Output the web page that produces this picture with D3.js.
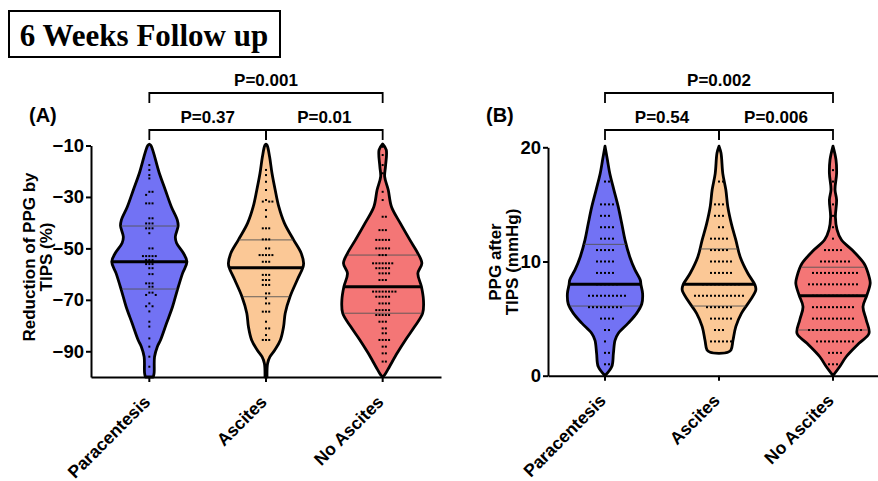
<!DOCTYPE html>
<html lang="en">
<head>
  <meta charset="UTF-8" />
  <title>6 Weeks Follow up</title>
  <script src="https://cdn.jsdelivr.net/npm/d3@7"></script>
  <style>
    body { margin: 0; background: #fff; }
    svg { font-family: "Liberation Sans", Arial, sans-serif; font-weight: bold; }
    .axis path, .axis line { stroke: #000; stroke-width: 2px; }
    .axis text { font-size: 18.5px; font-weight: bold; fill: #000; }
    .axis .cat { font-size: 17.5px; }
  </style>
</head>
<body>
  <div id="chart"></div>
  <script>
    const width = 878;
    const height = 481;

    const categories = ["Paracentesis", "Ascites", "No Ascites"];
    const colors = ["#7272f4", "#fbc896", "#f47676"];

    // violin outlines: [value, relative half width]
    const violinA = [
      [[-9.5,0],[-10,0.04],[-20.8,0.25],[-27.3,0.4],[-33.8,0.55],[-39,0.7],[-41.3,0.72],[-45.5,0.65],[-47.9,0.68],[-51.8,0.85],[-55.2,0.94],[-59.7,0.83],[-66.2,0.7],[-72.7,0.58],[-79.1,0.43],[-85.6,0.28],[-88.2,0.2],[-92.1,0.13],[-98.4,0.12],[-100,0.1]],
      [[-9.5,0],[-10,0.03],[-14.4,0.09],[-20.8,0.15],[-27.3,0.23],[-33.8,0.32],[-40.2,0.46],[-46.7,0.69],[-51.9,0.88],[-55.8,0.94],[-57.5,0.92],[-62.3,0.78],[-68.8,0.6],[-75.2,0.48],[-80.4,0.44],[-85.6,0.36],[-89.5,0.22],[-92.1,0.1],[-94.7,0.04],[-100,0.025]],
      [[-9.4,0],[-11.7,0.09],[-18.2,0.07],[-22.1,0.05],[-27.3,0.14],[-33.8,0.22],[-40.2,0.44],[-46.7,0.68],[-51.9,0.88],[-55.8,0.98],[-59.7,0.88],[-64.9,0.97],[-70.1,1.02],[-75.2,1.0],[-80.4,0.8],[-85.6,0.57],[-90.8,0.36],[-96,0.17],[-99.2,0.05],[-100,0]]
    ];
    const violinB = [
      [[20.1,0],[18.9,0.06],[17.7,0.12],[16.3,0.22],[14.8,0.33],[13.3,0.42],[11.9,0.5],[10.4,0.62],[9.26,0.75],[8.4,0.88],[7.94,0.9],[7.2,0.94],[6.3,0.92],[5.46,0.79],[4.6,0.58],[3.7,0.33],[3.1,0.25],[1.96,0.21],[0.8,0.17],[0,0]],
      [[20.1,0],[19.5,0.05],[17.7,0.095],[16.3,0.17],[14.8,0.22],[13.3,0.31],[11.9,0.42],[10.4,0.53],[8.97,0.72],[7.94,0.9],[7.5,0.92],[6.6,0.78],[5.46,0.56],[4.3,0.42],[3.1,0.35],[2.25,0.3],[2.05,0.22],[1.95,0]],
      [[20.1,0],[18.9,0.075],[17.7,0.09],[16.3,0.05],[15.4,0.09],[13.9,0.06],[12.8,0.1],[11.9,0.21],[11,0.48],[9.8,0.78],[8.7,0.9],[8.1,0.93],[7.07,0.85],[6.04,0.75],[4.9,0.83],[3.7,0.9],[2.84,0.65],[1.66,0.33],[0.8,0.17],[0,0]]
    ];

    // [q1, median, q3]
    const quartilesA = [[-65.8,-55.2,-41.3],[-68.8,-57.5,-46.7],[-75.2,-64.9,-52.6]];
    const quartilesB = [[6.1,8,11.5],[6.1,8,11.1],[4,7,9.5]];

    // dots: [value, count]
    const dotsA = [
      [[-17.6,1],[-19.5,1],[-21.5,1],[-22.8,1],[-28,2],[-29.2,1],[-32.5,3],[-38.3,2],[-40.3,3],[-42.2,3],[-44.1,1],[-50,2],[-53,5],[-54.5,3],[-56.1,3],[-57.7,2],[-60,2],[-63.6,3],[-64.9,2],[-67.2,2],[-68.1,2],[-71.4,1],[-72.5,2],[-74.5,1],[-78.5,1],[-80.4,1],[-85,1],[-88.2,1],[-92.1,1],[-96,1]],
      [[-19.5,1],[-21.5,1],[-24.1,1],[-27.3,1],[-31.2,1],[-31.8,3],[-35.1,1],[-37.7,1],[-42.2,3],[-46.5,3],[-50,2],[-52.6,5],[-55.2,3],[-60.3,3],[-62.3,3],[-64.2,3],[-67.5,2],[-69.4,1],[-71.4,2],[-74.6,3],[-78.5,1],[-81.1,2],[-83.7,1],[-85.6,3]],
      [[-10.5,1],[-13.7,1],[-17.6,1],[-20.8,1],[-28,1],[-31.2,1],[-37.7,2],[-42.9,3],[-46.7,5],[-50,5],[-52.6,3],[-55.8,7],[-57.7,5],[-59.7,4],[-62.3,3],[-66.8,8],[-68.8,5],[-71.4,4],[-74,5],[-75.9,5],[-78.5,3],[-81.1,2],[-83,2],[-85.6,4],[-88.2,2],[-90.8,2],[-94,2]]
    ];
    const dotsB = [
      [[20,1],[17,2],[15,4],[14,3],[13,4],[12,4],[11,5],[10,5],[9,5],[8,6],[7,10],[6,9],[5,4],[4,2],[3,1],[2,2],[1,2]],
      [[20,1],[17,2],[15,3],[14,3],[13,2],[12,5],[11,5],[10,6],[9,6],[8,10],[7,13],[6,7],[5,6],[4,3],[3,6]],
      [[20,1],[18,1],[17,1],[15,1],[14,1],[13,1],[12,1],[11,5],[10,8],[9,12],[8,13],[7,12],[6,11],[5,11],[4,14],[3,10],[2,4],[1,3]]
    ];

    const pValuesA = ["P=0.37", "P=0.01", "P=0.001"];
    const pValuesB = ["P=0.54", "P=0.006", "P=0.002"];

    const svg = d3.select("#chart").append("svg")
      .attr("width", width)
      .attr("height", height);

    // title box
    svg.append("rect")
      .attr("x", 9).attr("y", 11).attr("width", 271).attr("height", 46)
      .attr("fill", "none").attr("stroke", "#000").attr("stroke-width", 2);
    svg.append("text")
      .attr("x", 144).attr("y", 46)
      .attr("text-anchor", "middle")
      .style("font-family", "'Liberation Serif', 'Times New Roman', serif")
      .style("font-size", "31px")
      .text("6 Weeks Follow up");

    function swarm(values, y, cx, d) {
      const placed = [];
      values.slice().sort((a, b) => b - a).forEach(v => {
        const py = y(v);
        let px = cx;
        for (let i = 0; i < 60; i++) {
          const off = i === 0 ? 0 : (i % 2 ? 1 : -1) * Math.ceil(i / 2) * d;
          px = cx + off;
          if (placed.every(p => (p.x - px) ** 2 + (p.y - py) ** 2 >= d * d * 0.95)) break;
        }
        placed.push({ x: px, y: py });
      });
      return placed;
    }

    function halfWidth(profile, v) {
      const p = profile.slice().sort((a, b) => a[0] - b[0]);
      for (let i = 0; i < p.length - 1; i++) {
        if (v >= p[i][0] && v <= p[i + 1][0]) {
          const t = (v - p[i][0]) / (p[i + 1][0] - p[i][0]);
          return p[i][1] + t * (p[i + 1][1] - p[i][1]);
        }
      }
      return 0;
    }

    function panel(opt) {
      const x = d3.scaleBand().domain(categories).range(opt.xRange).padding(0);
      const y = d3.scaleLinear().domain(opt.yDomain).range(opt.yRange);
      const w = d3.scaleLinear().domain([0, 1]).range([0, 40]);
      const g = svg.append("g");

      categories.forEach((c, i) => {
        const cx = x(c) + x.bandwidth() / 2;
        const prof = opt.violins[i];
        const area = d3.area()
          .curve(d3.curveCatmullRom.alpha(0.5))
          .y(d => y(d[0]))
          .x0(d => cx - w(d[1]))
          .x1(d => cx + w(d[1]));
        g.append("path")
          .datum(prof)
          .attr("d", area)
          .attr("fill", colors[i])
          .attr("stroke", "#000")
          .attr("stroke-width", 2.8)
          .attr("stroke-linejoin", "round");

        const q = opt.quartiles[i];
        [q[0], q[2]].forEach(v => {
          const hw = w(halfWidth(prof, v)) * 0.97;
          g.append("line")
            .attr("x1", cx - hw).attr("x2", cx + hw)
            .attr("y1", y(v)).attr("y2", y(v))
            .attr("stroke", "#555").attr("stroke-width", 0.9);
        });

        const vals = [];
        opt.dots[i].forEach(([v, n]) => { for (let k = 0; k < n; k++) vals.push(v); });
        g.selectAll(null)
          .data(swarm(vals, y, cx, opt.dotGap))
          .enter().append("rect")
          .attr("x", d => d.x - 1).attr("y", d => d.y - 1)
          .attr("width", 2).attr("height", 2)
          .attr("fill", "#000");

        const hm = w(halfWidth(prof, q[1]));
        g.append("line")
          .attr("x1", cx - hm).attr("x2", cx + hm)
          .attr("y1", y(q[1])).attr("y2", y(q[1]))
          .attr("stroke", "#000").attr("stroke-width", 3);
      });

      g.append("g").attr("class", "axis")
        .attr("transform", `translate(${opt.xRange[0]},0)`)
        .call(d3.axisLeft(y).tickValues(opt.yTicks).tickSize(5).tickSizeOuter(0).tickPadding(2));

      const xa = g.append("g").attr("class", "axis")
        .attr("transform", `translate(0,${opt.yRange[0]})`)
        .call(d3.axisBottom(x).tickSize(5).tickSizeOuter(0));
      xa.selectAll("text")
        .attr("class", "cat")
        .attr("text-anchor", "end")
        .attr("transform", "translate(2,26) rotate(-45)")
        .attr("dy", 0)
        .attr("y", 0).attr("x", 0);

      // brackets
      const cxs = categories.map(c => x(c) + x.bandwidth() / 2);
      const bracket = (x1, x2, by, label, ty) => {
        g.append("path")
          .attr("d", `M${x1},${by + 10}V${by}H${x2}V${by + 10}`)
          .attr("fill", "none").attr("stroke", "#000").attr("stroke-width", 1.8);
        g.append("text")
          .attr("x", (x1 + x2) / 2).attr("y", ty)
          .attr("text-anchor", "middle")
          .style("font-size", "17px")
          .text(label);
      };
      bracket(cxs[0], cxs[1], 130, opt.p[0], 123);
      bracket(cxs[1], cxs[2], 130, opt.p[1], 123);
      bracket(cxs[0], cxs[2], 93, opt.p[2], 86);

      g.append("text")
        .attr("x", opt.labelX).attr("y", 122)
        .style("font-size", "20px")
        .text(opt.label);

      const t = g.append("text")
        .attr("transform", `translate(${opt.titleX},${opt.titleY}) rotate(-90)`)
        .attr("text-anchor", "middle")
        .style("font-size", "17px");
      opt.title.forEach((line, k) => {
        t.append("tspan").attr("x", 0).attr("y", k * 17).text(line);
      });
    }

    panel({
      xRange: [91, 441], yDomain: [-100, -10], yRange: [377, 145.5],
      yTicks: [-10, -30, -50, -70, -90],
      violins: violinA, quartiles: quartilesA, dots: dotsA, dotGap: 3.2,
      p: pValuesA, label: "(A)", labelX: 29,
      title: ["Reduction of PPG by", "TIPS (%)"], titleX: 35, titleY: 257
    });

    panel({
      xRange: [548, 890], yDomain: [0, 20], yRange: [375.7, 147.3],
      yTicks: [0, 10, 20],
      violins: violinB, quartiles: quartilesB, dots: dotsB, dotGap: 4,
      p: pValuesB, label: "(B)", labelX: 486,
      title: ["PPG after", "TIPS (mmHg)"], titleX: 501, titleY: 262
    });
  </script>
</body>
</html>
